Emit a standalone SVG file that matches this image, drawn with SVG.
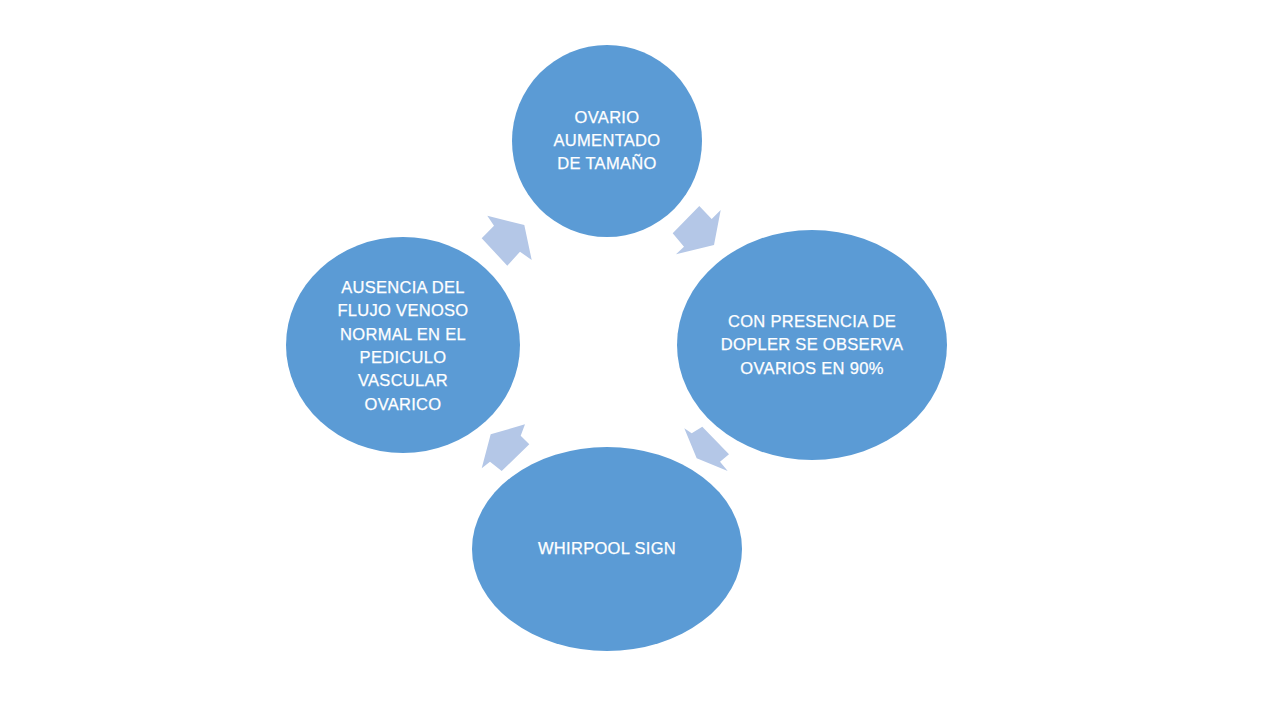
<svg xmlns="http://www.w3.org/2000/svg" width="1280" height="720" viewBox="0 0 1280 720">
<style>
.node{fill:#5B9BD5;}
.arr{fill:#B4C7E7;}
.t{font-family:"Liberation Sans",Arial,sans-serif;font-size:16.5px;letter-spacing:0.3px;fill:#FFFFFF;stroke:#FFFFFF;stroke-width:0.25px;text-anchor:middle;}
</style>
<rect width="1280" height="720" fill="#FFFFFF"/>
<g id="connectors">
<polygon class="arr" points="699.3,206 711.7,219 720.7,210 714,245 676,254.3 684,246.7 672.7,233.3"/>
<polygon class="arr" points="684.3,428.3 691.7,433.3 702.3,426.7 729,454.3 720,461.7 727.7,471 696.7,458.3"/>
<polygon class="arr" points="525,424.3 490.7,434.3 481.7,468.3 490,461.7 501.7,471 529.3,444.3 520.7,435.7"/>
<polygon class="arr" points="487.3,215.7 524.3,225 531.7,260 520,251.7 507.3,265.7 481.7,238.3 494,225.7"/>
</g>
<g id="node-top">
<ellipse class="node" cx="607" cy="141" rx="95" ry="96"/>
<text class="t" x="607" y="123">OVARIO</text>
<text class="t" x="607" y="146">AUMENTADO</text>
<text class="t" x="607" y="169">DE TAMAÑO</text>
</g>
<g id="node-right">
<ellipse class="node" cx="812" cy="345" rx="135" ry="115"/>
<text class="t" x="812" y="327">CON PRESENCIA DE</text>
<text class="t" x="812" y="350">DOPLER SE OBSERVA</text>
<text class="t" x="812" y="374">OVARIOS EN 90%</text>
</g>
<g id="node-bottom">
<ellipse class="node" cx="607" cy="549" rx="135" ry="102"/>
<text class="t" x="607" y="554">WHIRPOOL SIGN</text>
</g>
<g id="node-left">
<ellipse class="node" cx="403" cy="345" rx="117" ry="108"/>
<text class="t" x="403" y="293">AUSENCIA DEL</text>
<text class="t" x="403" y="316">FLUJO VENOSO</text>
<text class="t" x="403" y="340">NORMAL EN EL</text>
<text class="t" x="403" y="363">PEDICULO</text>
<text class="t" x="403" y="386">VASCULAR</text>
<text class="t" x="403" y="410">OVARICO</text>
</g>
</svg>
